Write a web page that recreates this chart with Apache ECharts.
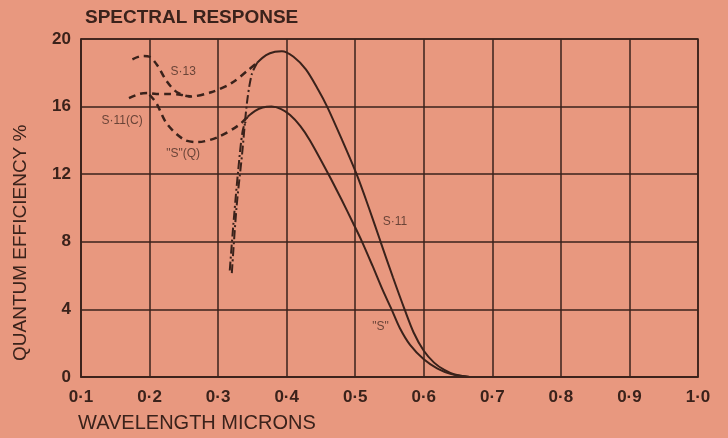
<!DOCTYPE html>
<html>
<head>
<meta charset="utf-8">
<script src="https://cdn.jsdelivr.net/npm/echarts@6/dist/echarts.min.js"></script>
<style>
html,body{margin:0;padding:0;background:#e8987f;}
#c{width:728px;height:438px;}
</style>
</head>
<body>
<div id="c"></div>
<script>
// ---- data ----
const xTickLabels = ['0·1','0·2','0·3','0·4','0·5','0·6','0·7','0·8','0·9','1·0'];
const yTicks = [0, 4, 8, 12, 16, 20];

// solid curves
const s11Solid = [[0.357,18.6],[0.37,19.05],[0.383,19.25],[0.393,19.28],[0.41,18.95],[0.428,18.2],[0.446,17.0],[0.459,16.0],[0.48,14.1],[0.502,12.0],[0.52,10.0],[0.537,8.0],[0.555,5.9],[0.572,4.0],[0.585,2.65],[0.6,1.55],[0.615,0.85],[0.63,0.42],[0.645,0.15],[0.667,0]];
const sSolid = [[0.343,15.4],[0.354,15.75],[0.365,15.95],[0.378,16.0],[0.392,15.85],[0.405,15.5],[0.42,14.85],[0.434,14.0],[0.461,12.0],[0.48,10.5],[0.497,9.1],[0.51,8.0],[0.525,6.6],[0.54,5.15],[0.553,4.0],[0.565,2.9],[0.58,1.9],[0.6,1.05],[0.62,0.5],[0.64,0.18],[0.667,0]];

// dash-dot rising branches
const s11Rise = [[0.320,6.15],[0.327,10.1],[0.335,13.2],[0.342,16.2],[0.349,17.9],[0.357,18.6]];
const sRise = [[0.317,6.3],[0.322,8.9],[0.329,12.1],[0.336,14.6],[0.343,15.4]];

// dashed curves
const s13 = [[0.175,18.8],[0.19,19.0],[0.2,18.95],[0.212,18.4],[0.225,17.5],[0.24,16.85],[0.26,16.6],[0.29,16.85],[0.32,17.4],[0.345,18.2],[0.357,18.6]];
const s11C = [[0.17,16.5],[0.185,16.75],[0.197,16.8],[0.21,16.75],[0.225,16.75],[0.245,16.7],[0.26,16.6]];
const sQ = [[0.2,16.7],[0.21,16.2],[0.225,15.0],[0.25,14.05],[0.27,13.9],[0.30,14.2],[0.33,14.9],[0.343,15.4]];

// curve labels
const curveLabelNames = ['S·13','S·11(C)','"S"(Q)','S·11','"S"'];
const curveLabelPos = [[0.249,18.05],[0.160,15.15],[0.249,13.2],[0.558,9.2],[0.537,3.0]];

// ---- chart ----
const ink = '#3a221b';
const font = '"Liberation Sans", Arial, Helvetica, sans-serif';
const chart = echarts.init(document.getElementById('c'));

function line(data, type, width) {
  return {
    type: 'line', data: data, smooth: 0.3, symbol: 'none', silent: true,
    lineStyle: { color: ink, width: width, type: type }
  };
}

chart.setOption({
  backgroundColor: '#e8987f',
  animation: false,
  title: {
    text: 'SPECTRAL RESPONSE', left: 80, top: 3,
    textStyle: { fontFamily: font, fontWeight: 'bold', fontSize: 19, color: ink }
  },
  grid: { left: 81, right: 30, top: 39, bottom: 61, show: true, borderColor: ink, borderWidth: 1.5, backgroundColor: 'transparent' },
  xAxis: {
    type: 'value', min: 0.1, max: 1.0, interval: 0.1,
    axisLine: { show: true, lineStyle: { color: ink, width: 1.5 } },
    axisTick: { show: false },
    splitLine: { show: true, lineStyle: { color: ink, width: 1.5 } },
    axisLabel: {
      margin: 12, color: ink, fontFamily: font, fontWeight: 'bold', fontSize: 17,
      formatter: function (v) { return xTickLabels[Math.round(v * 10) - 1]; }
    }
  },
  yAxis: {
    type: 'value', min: yTicks[0], max: yTicks[yTicks.length - 1], interval: 4,
    axisLine: { show: true, lineStyle: { color: ink, width: 1.5 } },
    axisTick: { show: false },
    splitLine: { show: true, lineStyle: { color: ink, width: 1.5 } },
    axisLabel: { margin: 10, color: ink, fontFamily: font, fontWeight: 'bold', fontSize: 17 }
  },
  graphic: [
    { type: 'text', left: 78, top: 413, style: { text: 'WAVELENGTH MICRONS', font: '20px ' + font, fill: ink } },
    { type: 'text', x: 11, y: 361, rotation: Math.PI / 2, style: { text: 'QUANTUM EFFICIENCY %', font: '19px ' + font, fill: ink } }
  ],
  series: [
    line(s11Solid, 'solid', 2),
    line(sSolid, 'solid', 2),
    line(s11Rise, [9, 3, 2, 3], 2),
    line(sRise, [9, 3, 2, 3], 2),
    line(s13, [7, 5], 2.5),
    line(s11C, [7, 5], 2.5),
    line(sQ, [7, 5], 2.5),
    {
      type: 'scatter', symbolSize: 0, silent: true,
      data: curveLabelPos.map(function (p, i) { return { value: p, name: curveLabelNames[i] }; }),
      label: {
        show: true, position: 'inside', formatter: '{b}',
        fontFamily: font, fontSize: 12, color: '#4a2e26'
      }
    }
  ]
});
</script>
</body>
</html>
